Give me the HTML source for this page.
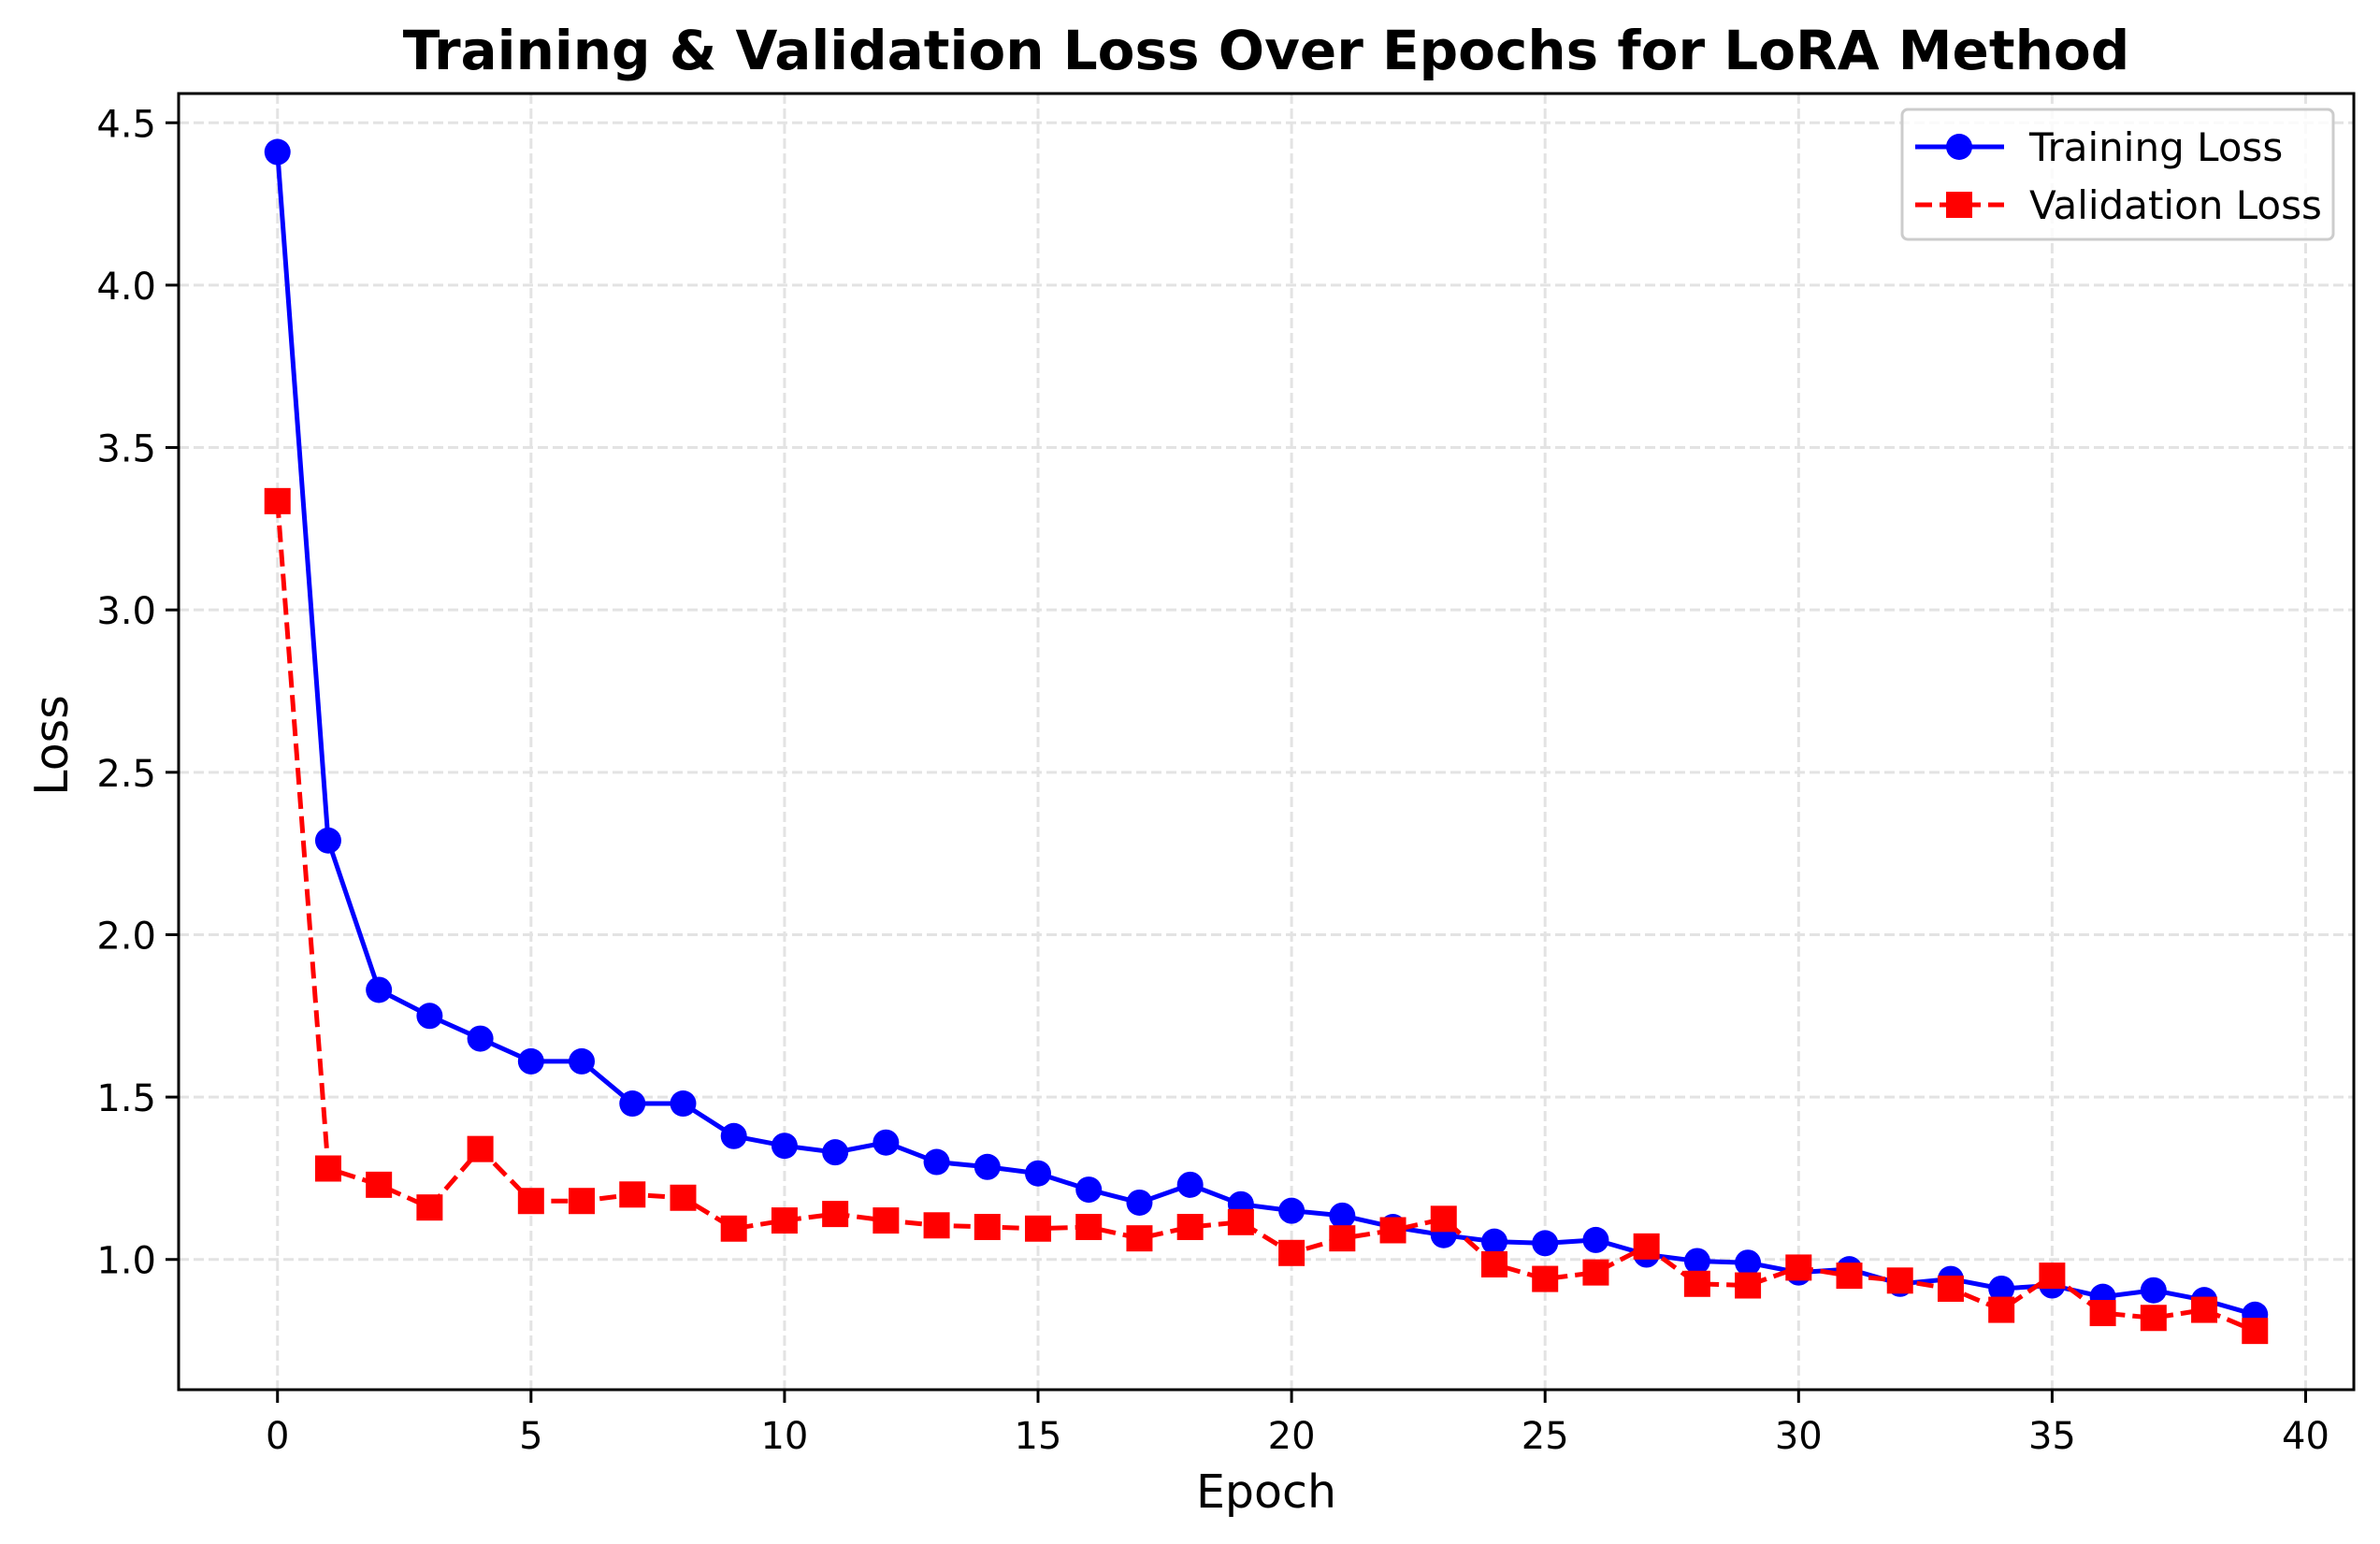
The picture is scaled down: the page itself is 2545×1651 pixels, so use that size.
<!DOCTYPE html>
<html><head><meta charset="utf-8"><style>
html,body{margin:0;padding:0;background:#fff;}
svg{display:block;font-family:"DejaVu Sans","Liberation Sans",sans-serif;}
</style></head>
<body>
<svg id="chart" width="2545" height="1651" viewBox="0 0 2545 1651" xmlns="http://www.w3.org/2000/svg">
<rect width="2545" height="1651" fill="#fff"/>
<text x="1354" y="74" text-anchor="middle" font-size="58" font-weight="bold">Training &amp; Validation Loss Over Epochs for LoRA Method</text>
<g id="grid"></g>
<g id="series"></g>
<rect x="191" y="100" width="2326" height="1386" fill="none" stroke="#000" stroke-width="3"/>
<g id="axes"></g>
<text x="1354" y="1612" text-anchor="middle" font-size="49">Epoch</text>
<text x="0" y="0" transform="translate(72,797) rotate(-90)" text-anchor="middle" font-size="49">Loss</text>
<g>
<rect x="2034" y="117" width="461" height="139" rx="6" fill="#fff" fill-opacity="0.8" stroke="#ccc" stroke-width="3"/>
<g>
<line x1="2048" y1="157" x2="2143" y2="157" stroke="#0000ff" stroke-width="5"/>
<circle cx="2095" cy="157" r="14" fill="#0000ff"/>
<text x="2170" y="172" font-size="42">Training Loss</text>
</g>
<g>
<line x1="2048" y1="219" x2="2143" y2="219" stroke="#ff0000" stroke-width="5" stroke-dasharray="18,8"/>
<rect x="2081" y="205" width="28" height="28" fill="#ff0000"/>
<text x="2170" y="234" font-size="42">Validation Loss</text>
</g>
</g>
</svg>
<script>
const epochs = Array.from({length:40},(_,i)=>i);
const trainLoss = [4.41,2.29,1.83,1.75,1.68,1.61,1.61,1.48,1.48,1.38,1.35,1.33,1.36,1.30,1.285,1.265,1.215,1.175,1.23,1.17,1.15,1.135,1.10,1.075,1.055,1.05,1.06,1.015,0.995,0.99,0.96,0.97,0.925,0.94,0.91,0.92,0.885,0.905,0.875,0.83];
const valLoss = [3.335,1.28,1.23,1.16,1.34,1.18,1.18,1.20,1.19,1.095,1.12,1.14,1.12,1.105,1.10,1.095,1.10,1.065,1.10,1.115,1.02,1.065,1.09,1.125,0.985,0.94,0.96,1.04,0.925,0.92,0.975,0.95,0.935,0.91,0.845,0.95,0.835,0.82,0.845,0.78];
const xTicks = [0,5,10,15,20,25,30,35,40];
const yTicks = [1.0,1.5,2.0,2.5,3.0,3.5,4.0,4.5];

const NS='http://www.w3.org/2000/svg';
const L=191,R=2517,T=100,B=1486;
const xmin=-1.95,xmax=40.95,ymin=0.599,ymax=4.590;
const sx=v=>L+(v-xmin)/(xmax-xmin)*(R-L);
const sy=v=>B-(v-ymin)/(ymax-ymin)*(B-T);
function mk(tag,attrs,parent){const e=document.createElementNS(NS,tag);for(const k in attrs)e.setAttribute(k,attrs[k]);parent.appendChild(e);return e;}
const grid=document.getElementById('grid'),axes=document.getElementById('axes'),series=document.getElementById('series');

xTicks.forEach(t=>{
  const x=sx(t);
  const g=mk('line',{x1:x,y1:T,x2:x,y2:B,stroke:'#e3e3e3','stroke-width':3,'stroke-dasharray':'11,5'},grid);
  
  
  const tk=mk('line',{x1:x,y1:B,x2:x,y2:B+14,stroke:'#000','stroke-width':3},axes);
  
  
  const lb=mk('text',{x:x,y:B+63,'text-anchor':'middle','font-size':40},axes);
  lb.textContent=String(t);
  
  
});
yTicks.forEach(t=>{
  const y=sy(t);
  const g=mk('line',{x1:L,y1:y,x2:R,y2:y,stroke:'#e3e3e3','stroke-width':3,'stroke-dasharray':'11,5'},grid);
  
  
  const tk=mk('line',{x1:L-14,y1:y,x2:L,y2:y,stroke:'#000','stroke-width':3},axes);
  
  
  const lb=mk('text',{x:L-24,y:y+15,'text-anchor':'end','font-size':40},axes);
  lb.textContent=t.toFixed(1);
  
  
});

const tp=epochs.map((e,i)=>sx(e)+','+sy(trainLoss[i])).join(' ');
const tl=mk('polyline',{points:tp,fill:'none',stroke:'#0000ff','stroke-width':5,'stroke-linejoin':'round'},series);


epochs.forEach((e,i)=>{
  const c=mk('circle',{cx:sx(e),cy:sy(trainLoss[i]),r:14,fill:'#0000ff'},series);
  
  
});
const vp=epochs.map((e,i)=>sx(e)+','+sy(valLoss[i])).join(' ');
const vl=mk('polyline',{points:vp,fill:'none',stroke:'#ff0000','stroke-width':5,'stroke-dasharray':'18,8','stroke-linejoin':'round'},series);


epochs.forEach((e,i)=>{
  const r=mk('rect',{x:sx(e)-14,y:sy(valLoss[i])-14,width:28,height:28,fill:'#ff0000'},series);
  
  
});
</script>
</body></html>
